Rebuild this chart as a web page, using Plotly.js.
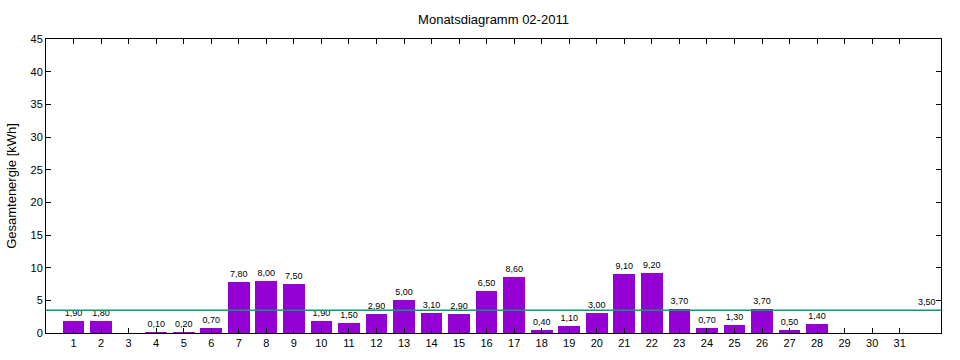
<!DOCTYPE html>
<html>
<head>
<meta charset="utf-8">
<script src="https://cdn.plot.ly/plotly-3.0.1.min.js"></script>
<style>html,body{margin:0;padding:0;background:#fff}#chart{width:960px;height:360px}</style>
</head>
<body>
<div id="chart"></div>
<script>
const days = [1,2,3,4,5,6,7,8,9,10,11,12,13,14,15,16,17,18,19,20,21,22,23,24,25,26,27,28,29,30,31];
const energy = [1.9,1.8,null,0.1,0.2,0.7,7.8,8.0,7.5,1.9,1.5,2.9,5.0,3.1,2.9,6.5,8.6,0.4,1.1,3.0,9.1,9.2,3.7,0.7,1.3,3.7,0.5,1.4,null,null,null];
const average = 3.5;
const titleText = "Monatsdiagramm 02-2011";
const yTitle = "Gesamtenergie [kWh]";

const font = "Liberation Sans, Arial, sans-serif";

const bars = {
  type: "bar",
  x: days,
  y: energy,
  width: 0.79,
  marker: {color: "#9400d3", line: {width: 0}},
  text: energy.map(v => v == null ? "" : v.toFixed(2).replace(".", ",")),
  textposition: "outside",
  textfont: {family: font, size: 9, color: "#000"},
  cliponaxis: false,
  hoverinfo: "x+y"
};

const layout = {
  width: 960, height: 360,
  margin: {l: 46, r: 19, t: 39, b: 27},
  paper_bgcolor: "#fff", plot_bgcolor: "#fff",
  showlegend: false,
  separators: ",.",
  title: {text: titleText, font: {family: font, size: 13, color: "#000"}, xref: "paper", x: 0.5, xanchor: "center", y: 0.947, yanchor: "middle"},
  xaxis: {
    range: [0, 32.5],
    tickvals: days,
    ticktext: days.map(String),
    ticks: "inside", ticklen: 5, tickcolor: "#000", tickwidth: 1,
    showline: true, linecolor: "#000", linewidth: 1, mirror: "allticks",
    showgrid: false, zeroline: false,
    tickfont: {family: font, size: 11, color: "#000"}
  },
  yaxis: {
    range: [0, 45], dtick: 5, tick0: 0,
    ticks: "inside", ticklen: 5, tickcolor: "#000", tickwidth: 1,
    showline: true, linecolor: "#000", linewidth: 1, mirror: "allticks",
    showgrid: false, zeroline: false,
    tickfont: {family: font, size: 11, color: "#000"},
    title: {text: yTitle, font: {family: font, size: 13, color: "#000"}, standoff: 10}
  },
  bargap: 0,
  shapes: [{type: "line", xref: "paper", yref: "y", x0: 0, x1: 1, y0: average, y1: average, line: {color: "#009e73", width: 1.5}}],
  annotations: [{xref: "x", yref: "y", x: 32, y: average, text: average.toFixed(2).replace(".", ","), showarrow: false, yanchor: "bottom", yshift: 1, font: {family: font, size: 9, color: "#000"}}]
};

Plotly.newPlot("chart", [bars], layout, {displayModeBar: false, staticPlot: true});
</script>
</body>
</html>
